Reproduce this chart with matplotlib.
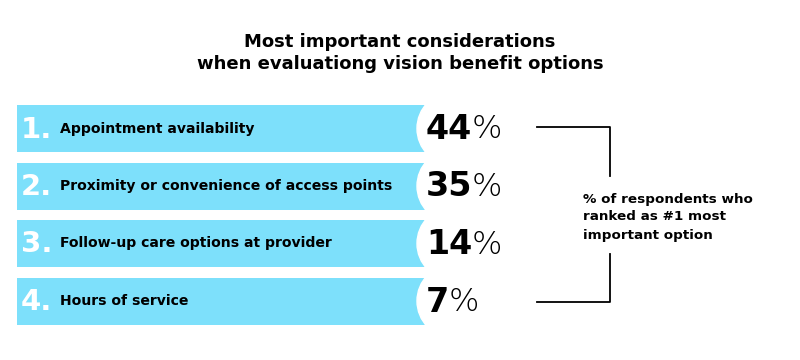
import matplotlib
matplotlib.use('Agg')
import matplotlib.pyplot as plt
from matplotlib.patches import Circle

# === Data ===
ranks = ['1.', '2.', '3.', '4.']
labels = ['Appointment availability',
          'Proximity or convenience of access points',
          'Follow-up care options at provider',
          'Hours of service']
values = [44, 35, 14, 7]
title = 'Most important considerations\nwhen evaluationg vision benefit options'
note = '% of respondents who\nranked as #1 most\nimportant option'

cyan = '#7DE0FB'
font = 'DejaVu Sans'

fig = plt.figure(figsize=(8, 3.6), dpi=100)
ax = fig.add_axes([0, 0, 1, 1])
ax.set_xlim(0, 800)
ax.set_ylim(360, 0)
ax.set_aspect('equal')
ax.axis('off')

# bar layout (pixels)
x0 = 17; bar_len = 408; bar_h = 47
yc = [128.5 + i*57.5 for i in range(len(values))]

ax.barh(yc, [bar_len]*len(values), left=x0, height=bar_h, color=cyan, zorder=1)
for y in yc:
    ax.add_patch(Circle((454, y), 37, color='white', zorder=2))

fig.canvas.draw()
r = fig.canvas.get_renderer()
for i, y in enumerate(yc):
    ax.text(21, y + 1, ranks[i], color='white', fontsize=21, fontweight='bold',
            family=font, va='center', ha='left', zorder=3)
    ax.text(60, y, labels[i], color='black', fontsize=10.1, fontweight='bold',
            family=font, va='center', ha='left', zorder=3)
    t = ax.text(426, y + 1, str(values[i]), color='black', fontsize=24,
                fontweight='bold', family=font, va='center', ha='left', zorder=3)
    bb = t.get_window_extent(r)
    xr = ax.transData.inverted().transform((bb.x1, bb.y0))[0]
    ax.text(xr - 1, y + 1, '%', color='black', fontsize=23, fontweight='light',
            family=font, va='center', ha='left', zorder=3)

ax.text(400, 53, title, ha='center', va='center', fontsize=13, fontweight='bold',
        family=font, linespacing=1.25)

# bracket
ax.plot([537, 610, 610], [127, 127, 176], color='black', lw=1.3)
ax.plot([537, 610, 610], [302, 302, 254], color='black', lw=1.3)
ax.text(583, 217, note, ha='left', va='center', fontsize=9.7, fontweight='bold',
        family=font, linespacing=1.5)

fig.savefig('out.png', dpi=100)
